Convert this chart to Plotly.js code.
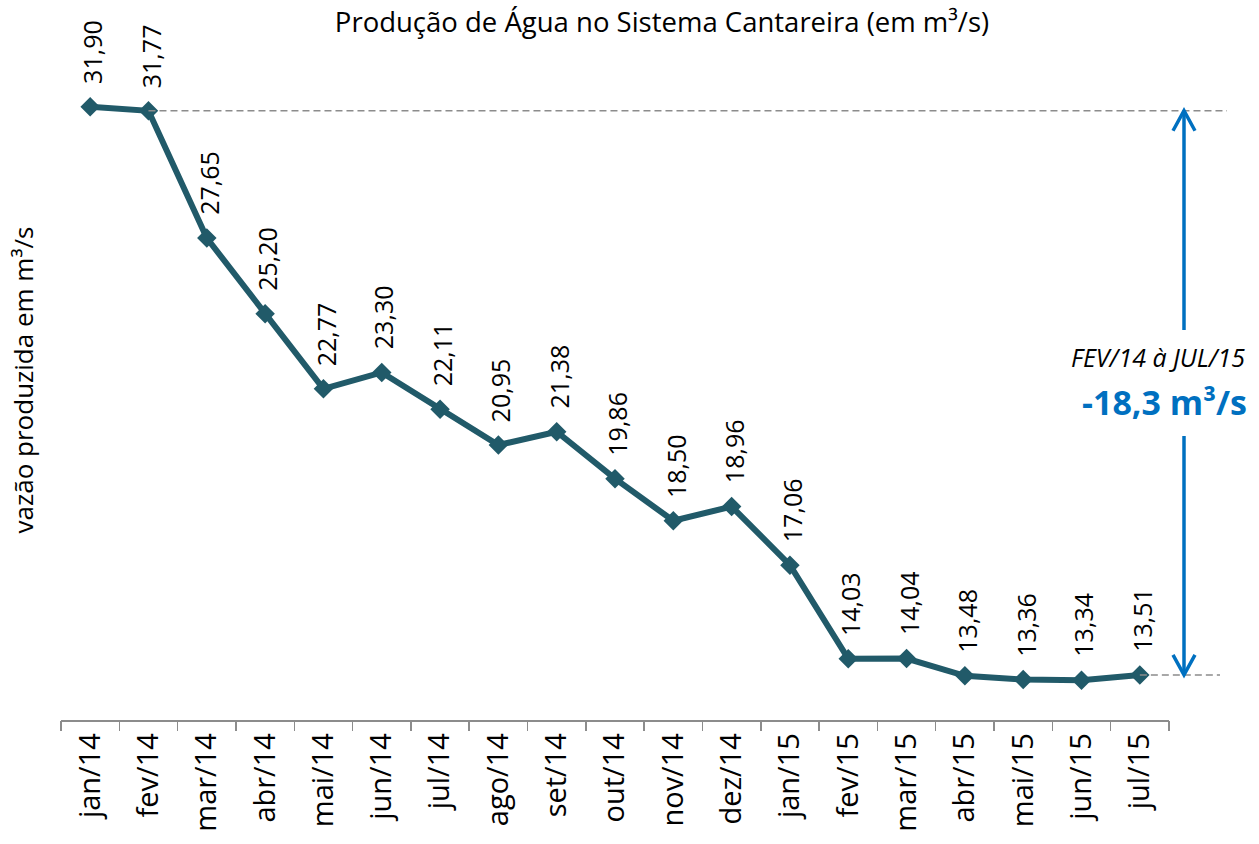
<!DOCTYPE html>
<html>
<head>
<meta charset="utf-8">
<script src="https://cdn.plot.ly/plotly-3.0.1.min.js"></script>
<style>body{margin:0;background:#fff}#chart{width:1259px;height:844px}</style>
</head>
<body>
<div id="chart"></div>
<script>
const months = ["jan/14","fev/14","mar/14","abr/14","mai/14","jun/14","jul/14","ago/14","set/14","out/14","nov/14","dez/14","jan/15","fev/15","mar/15","abr/15","mai/15","jun/15","jul/15"];
const values = [31.90,31.77,27.65,25.20,22.77,23.30,22.11,20.95,21.38,19.86,18.50,18.96,17.06,14.03,14.04,13.48,13.36,13.34,13.51];
const valueLabels = ["31,90","31,77","27,65","25,20","22,77","23,30","22,11","20,95","21,38","19,86","18,50","18,96","17,06","14,03","14,04","13,48","13,36","13,34","13,51"];
const chartTitle = "Produção de Água no Sistema Cantareira (em m³/s)";
const yTitle = "vazão produzida em m³/s";
const periodText = "FEV/14 à JUL/15";
const deltaText = "-18,3 m³/s";

const FONT = "Open Sans, Noto Sans, sans-serif";
const lineColor = "#215A69";
const blue = "#0070C0";

const idx = months.map((m, i) => i);
const n = months.length;
const startIdx = 1, endIdx = n - 1;
const topVal = values[startIdx], botVal = values[endIdx];

// layout geometry
const W = 1259, H = 844;
const mL = 61, mR = 90, mT = 40, mB = 124;
const plotW = W - mL - mR, plotH = H - mT - mB;
const yMin = 12.05, yMax = 34.06;
const pxPerUnit = plotH / (yMax - yMin);
const pxToVal = px => yMin + (H - mB - px) / pxPerUnit;
const pxToPaperX = px => (px - mL) / plotW;

const annotations = idx.map(i => ({
  x: i, y: values[i], xref: 'x', yref: 'y',
  text: valueLabels[i], showarrow: false, textangle: -90,
  xanchor: 'center', yanchor: 'bottom', yshift: 21, xshift: 2,
  font: {family: FONT, size: 25, color: '#000'}
}));

annotations.push({
  x: pxToPaperX(1069), y: 1 - (357 - mT) / plotH, xref: 'paper', yref: 'paper',
  text: '<i>' + periodText + '</i>', showarrow: false, xanchor: 'left', yanchor: 'middle',
  font: {family: FONT, size: 25, color: '#000'}
});
annotations.push({
  x: pxToPaperX(1080), y: 1 - (402 - mT) / plotH, xref: 'paper', yref: 'paper',
  text: '<b>' + deltaText + '</b>', showarrow: false, xanchor: 'left', yanchor: 'middle',
  font: {family: FONT, size: 34, color: blue}
});

const ax = pxToPaperX(1184);
const hw = 11 / plotW;           // chevron half width
const hd = 20 / pxPerUnit;       // chevron depth
const arrowLine = {color: blue, width: 3.5};
const dashLine = {color: '#8c8c8c', width: 1.5, dash: '7px,4px'};

const shapes = [
  {type: 'line', xref: 'paper', yref: 'y', x0: (startIdx + 0.5) / n, x1: pxToPaperX(1227), y0: topVal, y1: topVal, line: dashLine},
  {type: 'line', xref: 'paper', yref: 'y', x0: (endIdx + 0.5) / n, x1: pxToPaperX(1220), y0: botVal, y1: botVal, line: dashLine},
  // upper arrow
  {type: 'line', xref: 'paper', yref: 'y', x0: ax, x1: ax, y0: pxToVal(330), y1: topVal - 0.05, line: arrowLine},
  {type: 'path', xref: 'paper', yref: 'y',
   path: `M${ax - hw},${topVal - hd} L${ax},${topVal} L${ax + hw},${topVal - hd}`, line: arrowLine},
  // lower arrow
  {type: 'line', xref: 'paper', yref: 'y', x0: ax, x1: ax, y0: pxToVal(436), y1: botVal + 0.05, line: arrowLine},
  {type: 'path', xref: 'paper', yref: 'y',
   path: `M${ax - hw},${botVal + hd} L${ax},${botVal} L${ax + hw},${botVal + hd}`, line: arrowLine}
];

const trace = {
  x: idx, y: values, type: 'scatter', mode: 'lines+markers',
  line: {color: lineColor, width: 6},
  marker: {symbol: 'diamond', size: 15, color: lineColor},
  cliponaxis: false, hoverinfo: 'skip'
};

const layout = {
  width: W, height: H,
  margin: {l: mL, r: mR, t: mT, b: mB},
  paper_bgcolor: '#fff', plot_bgcolor: '#fff',
  showlegend: false,
  font: {family: FONT, color: '#000'},
  title: {text: chartTitle, font: {family: FONT, size: 27.5, color: '#000'},
          x: pxToPaperX(662), xanchor: 'center', xref: 'paper', y: 1 - 22 / H, yanchor: 'middle'},
  xaxis: {
    type: 'linear', range: [-0.5, n - 0.5],
    tickmode: 'array', tickvals: idx, ticktext: months, tickangle: -90,
    showgrid: false, zeroline: false, showline: true, linecolor: '#8c8c8c', linewidth: 1.5,
    ticks: '', tickfont: {family: FONT, size: 29, color: '#000'}
  },
  xaxis2: {
    overlaying: 'x', range: [-0.5, n - 0.5], tickmode: 'linear', tick0: -0.5, dtick: 1,
    ticks: 'outside', ticklen: 10, tickcolor: '#8c8c8c', tickwidth: 1.5,
    showticklabels: false, showgrid: false, zeroline: false, showline: false, anchor: 'y', side: 'bottom'
  },
  yaxis: {
    range: [yMin, yMax], showgrid: false, zeroline: false, showline: false,
    showticklabels: false, ticks: '',
    title: {text: yTitle, font: {family: FONT, size: 26, color: '#000'}, standoff: 18}
  },
  annotations: annotations,
  shapes: shapes
};

const tickTrace = {x: [0], y: [values[0]], xaxis: 'x2', yaxis: 'y', mode: 'markers', marker: {opacity: 0}, hoverinfo: 'skip'};

Plotly.newPlot('chart', [tickTrace, trace], layout, {displayModeBar: false, staticPlot: true});
</script>
</body>
</html>
